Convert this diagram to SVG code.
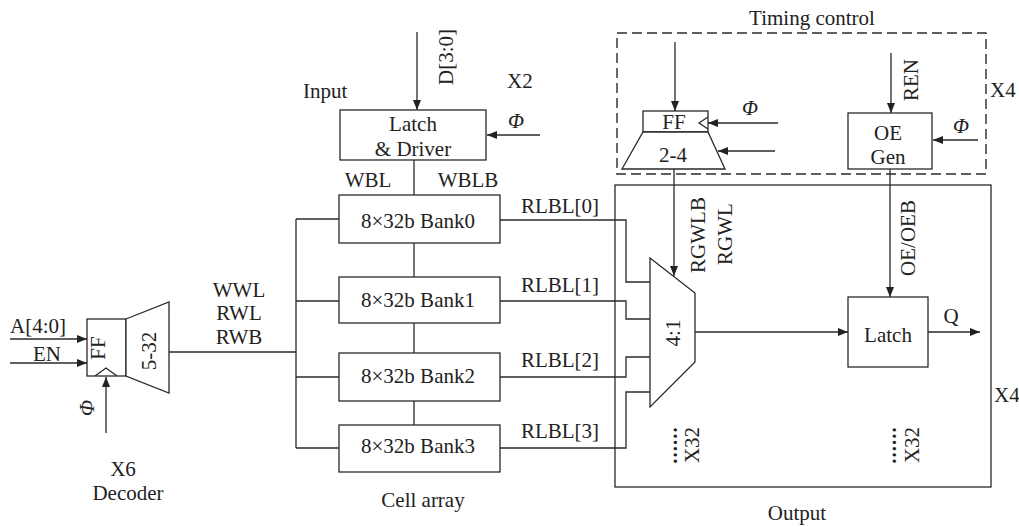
<svg xmlns="http://www.w3.org/2000/svg" width="1019" height="527" viewBox="0 0 1019 527">
<defs>
<marker id="arr" markerUnits="userSpaceOnUse" markerWidth="11" markerHeight="8" refX="10" refY="4" orient="auto">
<path d="M0,0 L10,4 L0,8 z" fill="#222"/>
</marker>
<style>
.s{fill:none;stroke:#2a2a2a;stroke-width:1.3}
.b{fill:#fff;stroke:#2a2a2a;stroke-width:1.3}
.w{stroke:#2a2a2a;stroke-width:1.3;fill:none}
.a{stroke:#2a2a2a;stroke-width:1.3;fill:none;marker-end:url(#arr)}
text{font-family:"Liberation Serif","Times New Roman",serif;font-size:21px;fill:#222}
.m{text-anchor:middle}
.i{font-style:italic}
.d{font-weight:bold;letter-spacing:1px}
</style>
</defs>
<rect width="1019" height="527" fill="#fff"/>

<g id="connectors">
<!-- decoder inputs -->
<line class="a" x1="10" y1="339" x2="87" y2="339"/>
<line class="a" x1="10" y1="363" x2="87" y2="363"/>
<line class="a" x1="106" y1="433" x2="106" y2="377"/>
<!-- decoder to bus -->
<line class="w" x1="169" y1="352" x2="296" y2="352"/>
<line class="w" x1="296" y1="219" x2="296" y2="448"/>
<line class="w" x1="296" y1="219" x2="339" y2="219"/>
<line class="w" x1="296" y1="301" x2="339" y2="301"/>
<line class="w" x1="296" y1="377" x2="339" y2="377"/>
<line class="w" x1="296" y1="448" x2="339" y2="448"/>
<!-- input latch -->
<line class="a" x1="417" y1="32" x2="417" y2="110"/>
<line class="a" x1="540" y1="135" x2="487" y2="135"/>
<line class="w" x1="414" y1="160" x2="414" y2="195"/>
<line class="w" x1="414" y1="243" x2="414" y2="277"/>
<line class="w" x1="414" y1="323" x2="414" y2="353"/>
<line class="w" x1="414" y1="401" x2="414" y2="425"/>
<!-- RLBL -->
<polyline class="w" points="500,220 626,220 626,282 650,282"/>
<polyline class="w" points="500,301 626,301 626,319 650,319"/>
<polyline class="w" points="500,377 626,377 626,357 650,357"/>
<polyline class="w" points="500,448 626,448 626,392 650,392"/>
<!-- timing -->
<line class="a" x1="675" y1="42" x2="675" y2="111"/>
<line class="a" x1="778" y1="123" x2="708" y2="123"/>
<line class="a" x1="775" y1="151" x2="718" y2="151"/>
<line class="a" x1="891" y1="53" x2="891" y2="113"/>
<line class="a" x1="978" y1="140" x2="933" y2="140"/>
<line class="a" x1="674" y1="169" x2="674" y2="276"/>
<line class="a" x1="890" y1="169" x2="890" y2="297"/>
<!-- mux to latch, Q -->
<line class="a" x1="695" y1="332" x2="848" y2="332"/>
<line class="a" x1="928" y1="332" x2="980" y2="332"/>
</g>

<g id="decoder">
<rect class="b" x="87" y="319" width="39" height="57"/>
<polyline class="s" points="95,376 106,368 117,376"/>
<polygon class="b" points="126,319 169,302 169,393 126,376"/>
<text class="m" transform="translate(105,348) rotate(-90)">FF</text>
<text class="m" transform="translate(156,351) rotate(-90)">5-32</text>
<text class="m i" transform="translate(94,408) rotate(-90)">Φ</text>
<text x="10" y="333">A[4:0]</text>
<text class="m" x="47" y="361">EN</text>
<text class="m" x="123" y="476">X6</text>
<text class="m" x="128" y="500">Decoder</text>
<text class="m" x="239" y="297">WWL</text>
<text class="m" x="239" y="320">RWL</text>
<text class="m" x="239" y="344">RWB</text>
</g>

<g id="input-latch">
<rect class="b" x="340" y="110" width="146" height="50"/>
<text class="m" x="413" y="131">Latch</text>
<text class="m" x="413" y="156">&amp; Driver</text>
<text x="303" y="98">Input</text>
<text class="m" transform="translate(453,57) rotate(-90)">D[3:0]</text>
<text x="507" y="88">X2</text>
<text class="i" x="508" y="128">Φ</text>
<text class="m" x="368" y="187">WBL</text>
<text class="m" x="468" y="187">WBLB</text>
</g>

<g id="bank0">
<rect class="b" x="339" y="195" width="161" height="48"/>
<text class="m" x="418" y="228">8×32b Bank0</text>
</g>
<g id="bank1">
<rect class="b" x="339" y="277" width="161" height="46"/>
<text class="m" x="418" y="307">8×32b Bank1</text>
</g>
<g id="bank2">
<rect class="b" x="339" y="353" width="161" height="48"/>
<text class="m" x="418" y="383">8×32b Bank2</text>
</g>
<g id="bank3">
<rect class="b" x="339" y="425" width="161" height="47"/>
<text class="m" x="418" y="453">8×32b Bank3</text>
</g>
<g id="cell-array-label">
<text class="m" x="423" y="507">Cell array</text>
<text class="m" x="560" y="213">RLBL[0]</text>
<text class="m" x="560" y="292">RLBL[1]</text>
<text class="m" x="560" y="367">RLBL[2]</text>
<text class="m" x="560" y="438">RLBL[3]</text>
</g>

<g id="timing-control">
<rect x="617" y="33" width="369" height="141" fill="none" stroke="#2a2a2a" stroke-width="1.4" stroke-dasharray="10,5"/>
<text class="m" x="812" y="25">Timing control</text>
<text x="990" y="97">X4</text>
</g>
<g id="ff-2-4">
<rect class="b" x="643" y="111" width="65" height="21"/>
<polyline class="s" points="708,117 699,123 708,129"/>
<text class="m" x="674" y="129">FF</text>
<polygon class="b" points="643,132 708,132 725,169 622,169"/>
<text class="m" x="673" y="162">2-4</text>
<text class="i" x="742" y="115">Φ</text>
</g>
<g id="oe-gen">
<rect class="b" x="848" y="113" width="84" height="56"/>
<text class="m" x="888" y="140">OE</text>
<text class="m" x="888" y="164">Gen</text>
<text class="m" transform="translate(918,80) rotate(-90)">REN</text>
<text class="i" x="953" y="133">Φ</text>
</g>

<g id="output">
<rect x="615" y="185" width="376" height="302" fill="none" stroke="#2a2a2a" stroke-width="1.3"/>
<text class="m" x="797" y="520">Output</text>
<text x="994" y="402">X4</text>
<text class="m d" transform="translate(677,445) rotate(-90)">......</text>
<text class="m" transform="translate(699,445) rotate(-90)">X32</text>
<text class="m d" transform="translate(896,445) rotate(-90)">......</text>
<text class="m" transform="translate(919,445) rotate(-90)">X32</text>
</g>
<g id="mux">
<polygon class="b" points="650,258 695,293 695,362 650,407"/>
<text class="m" transform="translate(680,333) rotate(-90)">4:1</text>
<text class="m" transform="translate(705,235) rotate(-90)">RGWLB</text>
<text class="m" transform="translate(732,234) rotate(-90)">RGWL</text>
</g>
<g id="output-latch">
<rect class="b" x="848" y="297" width="80" height="70"/>
<text class="m" x="888" y="342">Latch</text>
<text class="m" x="951" y="323">Q</text>
<text class="m" transform="translate(915,238) rotate(-90)">OE/OEB</text>
</g>
</svg>
